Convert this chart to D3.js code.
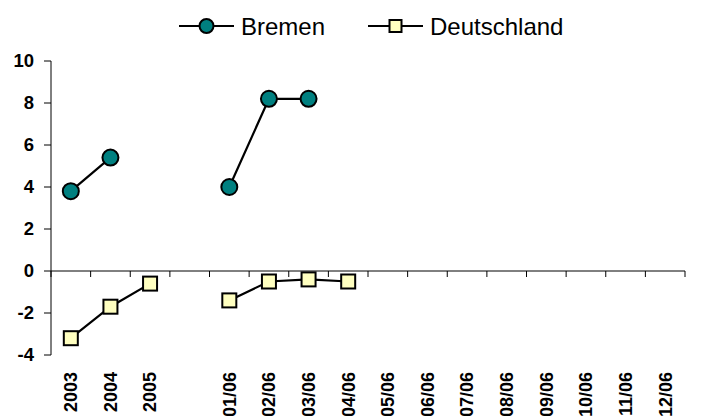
<!DOCTYPE html>
<html>
<head>
<meta charset="utf-8">
<script src="https://cdn.jsdelivr.net/npm/d3@7"></script>
<style>
  html, body { margin: 0; padding: 0; background: #fff; }
  svg { display: block; font-family: Arial, "Liberation Sans", sans-serif; }
</style>
</head>
<body>
<svg id="chart" width="701" height="416"></svg>
<script>
// Categories along the x axis (blank slot separates yearly and monthly values)
const categories = ["2003", "2004", "2005", " ", "01/06", "02/06", "03/06", "04/06",
                    "05/06", "06/06", "07/06", "08/06", "09/06", "10/06", "11/06", "12/06"];
const bremen      = [3.8, 5.4, null, null, 4.0, 8.2, 8.2, null, null, null, null, null, null, null, null, null];
const deutschland = [-3.2, -1.7, -0.6, null, -1.4, -0.5, -0.4, -0.5, null, null, null, null, null, null, null, null];
const yTicks = [-4, -2, 0, 2, 4, 6, 8, 10];
const seriesNames = ["Bremen", "Deutschland"];

const svg = d3.select("#chart");

const x = d3.scaleBand().domain(categories).range([51, 685]).padding(0);
const y = d3.scaleLinear().domain([-4, 10]).range([355, 61]);

const ink = "#000";

// Y axis
const yAxis = svg.append("g");
yAxis.append("line")
  .attr("x1", 51).attr("x2", 51)
  .attr("y1", y(10)).attr("y2", y(-4))
  .attr("stroke", ink).attr("stroke-width", 1);
yAxis.selectAll(".yt").data(yTicks).enter().append("line")
  .attr("x1", 44).attr("x2", 51)
  .attr("y1", d => y(d)).attr("y2", d => y(d))
  .attr("stroke", ink).attr("stroke-width", 1);
yAxis.selectAll(".yl").data(yTicks).enter().append("text")
  .attr("x", 34).attr("y", d => y(d))
  .attr("dy", "0.35em")
  .attr("text-anchor", "end")
  .attr("font-size", 18.5).attr("font-weight", "bold")
  .attr("fill", ink)
  .text(d => d);

// X axis at zero
const xAxis = svg.append("g");
xAxis.append("line")
  .attr("x1", x.range()[0]).attr("x2", x.range()[1])
  .attr("y1", y(0)).attr("y2", y(0))
  .attr("stroke", ink).attr("stroke-width", 1);
const edges = categories.map(c => x(c)).concat([x.range()[1]]);
xAxis.selectAll(".xt").data(edges).enter().append("line")
  .attr("x1", d => d).attr("x2", d => d)
  .attr("y1", y(0)).attr("y2", y(0) + 6)
  .attr("stroke", ink).attr("stroke-width", 1);
xAxis.selectAll(".xl").data(categories).enter().append("text")
  .attr("transform", d => `translate(${x(d) + x.bandwidth() / 2},372) rotate(-90)`)
  .attr("dy", "0.35em")
  .attr("text-anchor", "end")
  .attr("font-size", 18).attr("font-weight", "bold")
  .attr("fill", ink)
  .text(d => d);

const cx = (d, i) => x(categories[i]) + x.bandwidth() / 2;
const line = d3.line()
  .defined(d => d != null)
  .x((d, i) => cx(d, i))
  .y(d => y(d));

// Series lines
svg.append("path").datum(bremen)
  .attr("d", line).attr("fill", "none")
  .attr("stroke", ink).attr("stroke-width", 2.2);
svg.append("path").datum(deutschland)
  .attr("d", line).attr("fill", "none")
  .attr("stroke", ink).attr("stroke-width", 2.2);

// Markers
const bPts = bremen.map((v, i) => ({ v, i })).filter(d => d.v != null);
svg.selectAll(".bm").data(bPts).enter().append("circle")
  .attr("cx", d => cx(d.v, d.i)).attr("cy", d => y(d.v)).attr("r", 8)
  .attr("fill", "#008080").attr("stroke", ink).attr("stroke-width", 2);

const dPts = deutschland.map((v, i) => ({ v, i })).filter(d => d.v != null);
const sq = 14;
svg.selectAll(".dm").data(dPts).enter().append("rect")
  .attr("x", d => cx(d.v, d.i) - sq / 2).attr("y", d => y(d.v) - sq / 2)
  .attr("width", sq).attr("height", sq)
  .attr("fill", "#FFFFC0").attr("stroke", ink).attr("stroke-width", 2);

// Legend
const legend = svg.append("g");
const ly = 26;
const items = [
  { name: seriesNames[0], x0: 179, shape: "circle" },
  { name: seriesNames[1], x0: 368, shape: "rect" }
];
items.forEach(it => {
  legend.append("line")
    .attr("x1", it.x0).attr("x2", it.x0 + 55)
    .attr("y1", ly).attr("y2", ly)
    .attr("stroke", ink).attr("stroke-width", 2);
  if (it.shape === "circle") {
    legend.append("circle").attr("cx", it.x0 + 27.5).attr("cy", ly).attr("r", 7)
      .attr("fill", "#008080").attr("stroke", ink).attr("stroke-width", 2);
  } else {
    legend.append("rect").attr("x", it.x0 + 27.5 - 6).attr("y", ly - 6)
      .attr("width", 12).attr("height", 12)
      .attr("fill", "#FFFFC0").attr("stroke", ink).attr("stroke-width", 2);
  }
  legend.append("text")
    .attr("x", it.x0 + 62).attr("y", ly + 1).attr("dy", "0.35em")
    .attr("font-size", 24).attr("fill", ink)
    .text(it.name);
});
</script>
</body>
</html>
